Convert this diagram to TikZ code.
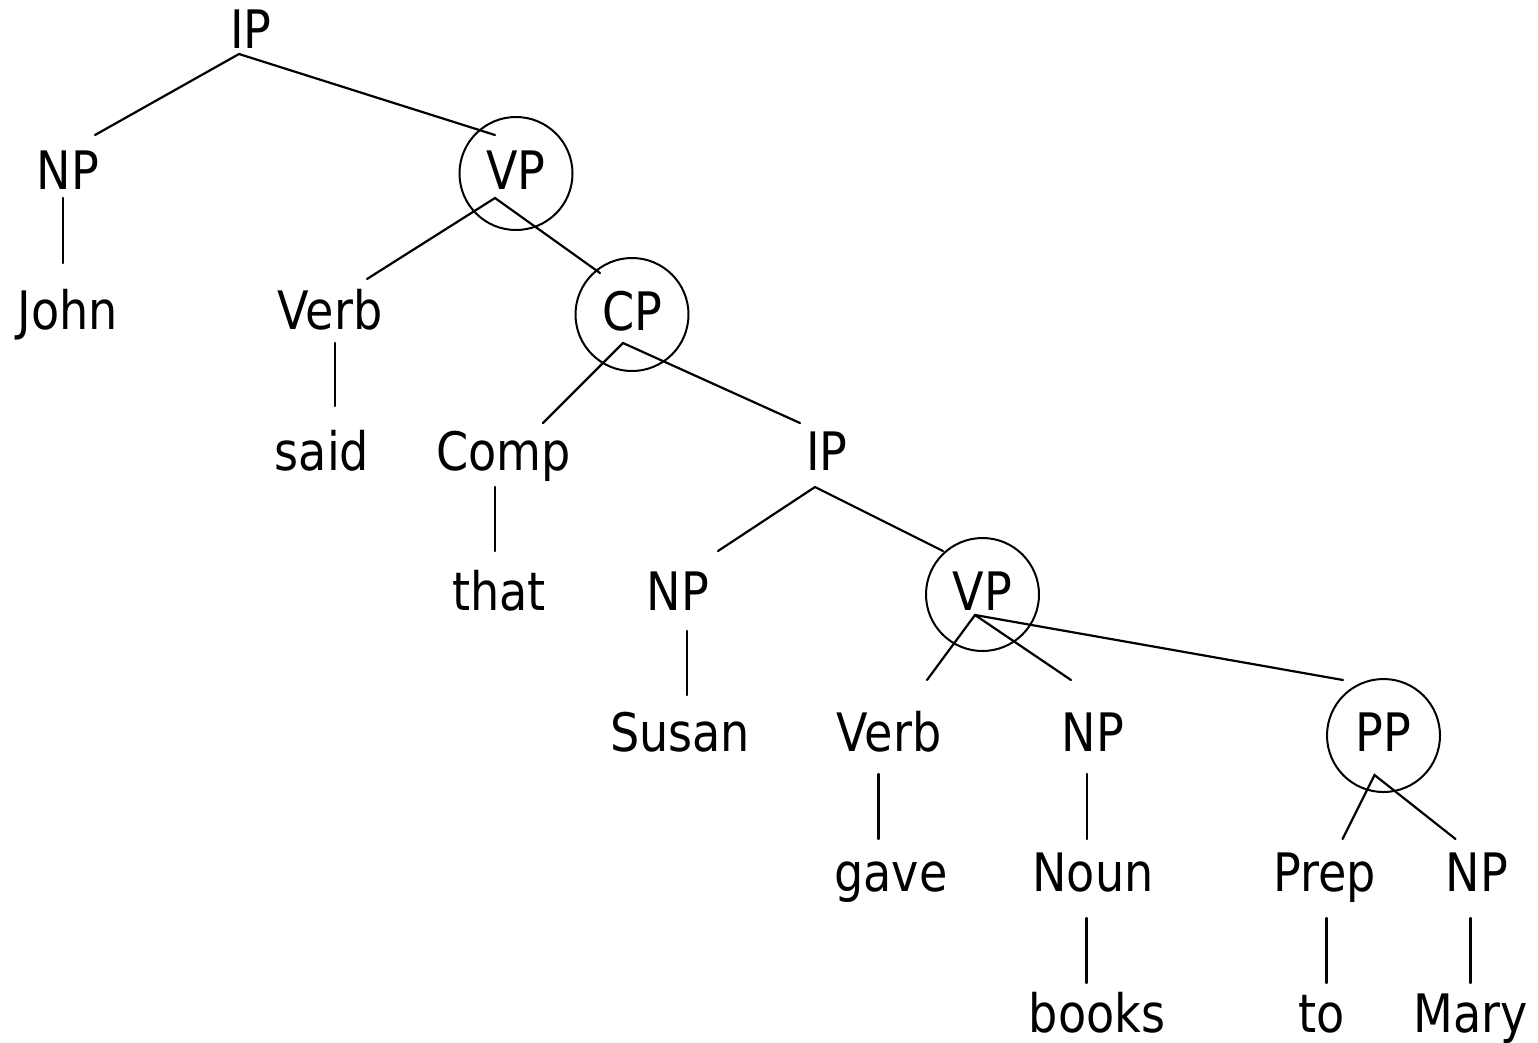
\documentclass[tikz,border=0pt]{standalone}
\usepackage{fontspec}
\setmainfont[FakeStretch=0.87]{DejaVu Sans}
\usepackage{tikz}
\usetikzlibrary{%
  positioning,%
  calc%
}

\tikzset{
  cat/.style={anchor=base, inner sep=0pt},
  ring/.style={cat, draw, circle, line width=2pt, minimum size=113pt,
    text height=38pt, text depth=7pt},
  branch/.style={line width=2.2pt, line cap=round}
}

\begin{document}
\begin{tikzpicture}[x=1pt, y=-1pt, font=\fontsize{53}{60}\selectfont]
\useasboundingbox (0,0) rectangle (1538,1042);
% labels, row by row
\node[cat] (ip0) at (251,48) {IP};
\node[cat] (np1) at (68,189) {NP};
\node[ring] (vp1) at (516,189) {VP};
\node[cat] (john) at (68,329) {John};
\node[cat] (verb2) at (330,329) {Verb};
\node[ring] (cp2) at (632,330) {CP};
\node[cat] (said) at (322,470) {said};
\node[cat] (comp3) at (503.5,470) {Comp};
\node[cat] (ip3) at (827,470) {IP};
\node[cat] (that) at (499,610) {that};
\node[cat] (np4) at (678,610) {NP};
\node[ring] (vp4) at (982.5,610) {VP};
\node[cat] (susan) at (680,751) {Susan};
\node[cat] (verb5) at (889,751) {Verb};
\node[cat] (np5) at (1093,751) {NP};
\node[ring] (pp5) at (1383.5,751) {PP};
\node[cat] (gave) at (891,891) {gave};
\node[cat] (noun6) at (1093,891) {Noun};
\node[cat] (prep6) at (1324.5,891) {Prep};
\node[cat] (np6) at (1477,891) {NP};
\node[cat] (books) at (1097,1032) {books};
\node[cat] (to) at (1321.5,1032) {to};
\node[cat] (mary) at (1470.5,1032) {Mary};
% branches
\draw[branch] ([shift={(27,-54)}]np1.base) -- ([shift={(-12,6)}]ip0.base) -- ([shift={(-21,-54)}]vp1.base);
\draw[branch] ([shift={(-5,9)}]np1.base) -- ([shift={(-5,-66)}]john.base);
\draw[branch] ([shift={(37,-50)}]verb2.base) -- ([shift={(-21,9)}]vp1.base) -- ([shift={(-32,-57)}]cp2.base);
\draw[branch] ([shift={(5,14)}]verb2.base) -- ([shift={(13,-64)}]said.base);
\draw[branch] ([shift={(39.5,-47)}]comp3.base) -- ([shift={(-9,13)}]cp2.base) -- ([shift={(-27,-47)}]ip3.base);
\draw[branch] ([shift={(-8.5,17)}]comp3.base) -- ([shift={(-4,-59)}]that.base);
\draw[branch] ([shift={(40,-59)}]np4.base) -- ([shift={(-12,17)}]ip3.base) -- ([shift={(-39.5,-59)}]vp4.base);
\draw[branch] ([shift={(9,21)}]np4.base) -- ([shift={(7,-56)}]susan.base);
\draw[branch] ([shift={(38,-71)}]verb5.base) -- ([shift={(-7.5,5)}]vp4.base) -- ([shift={(-22,-71)}]np5.base);
\draw[branch] ([shift={(-7.5,5)}]vp4.base) -- ([shift={(-40.5,-71)}]pp5.base);
\draw[branch] ([shift={(-10.5,23)}]verb5.base) -- ([shift={(-12.5,-52)}]gave.base);
\draw[branch] ([shift={(-6,23)}]np5.base) -- ([shift={(-6,-52)}]noun6.base);
\draw[branch] ([shift={(18,-52)}]prep6.base) -- ([shift={(-9,24)}]pp5.base) -- ([shift={(-21.5,-52)}]np6.base);
\draw[branch] ([shift={(-6.5,27)}]noun6.base) -- ([shift={(-10.5,-49)}]books.base);
\draw[branch] ([shift={(2,27)}]prep6.base) -- ([shift={(5,-49)}]to.base);
\draw[branch] ([shift={(-6.5,27)}]np6.base) -- ([shift={(0,-49)}]mary.base);
\end{tikzpicture}
\end{document}
